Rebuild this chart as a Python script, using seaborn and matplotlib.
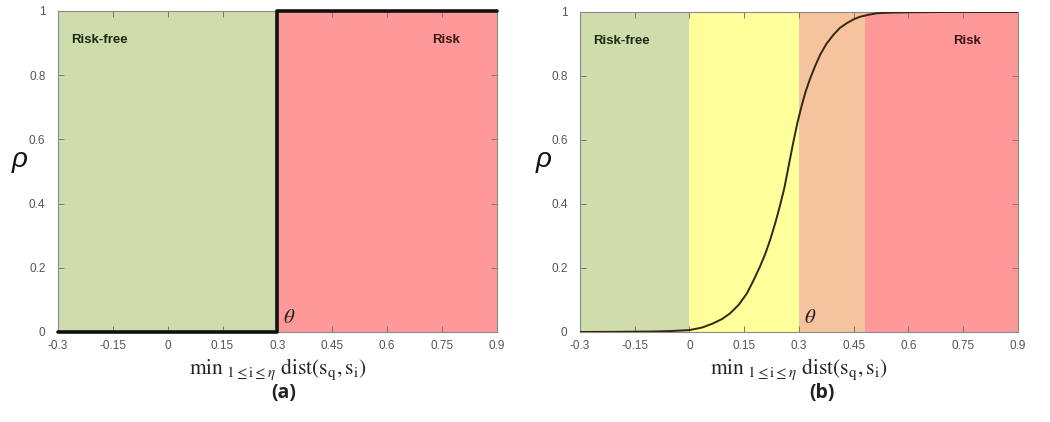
import matplotlib
matplotlib.use('Agg')
import matplotlib.pyplot as plt
import seaborn as sns
import pandas as pd

sns.set_style('ticks')
plt.rcParams['font.family'] = ['Liberation Sans', 'DejaVu Sans']
plt.rcParams['mathtext.fontset'] = 'stix'

# panel (a): hard threshold
edges_a = [-0.3, 0.3, 0.9]
colors_a = ['#cfdcac', '#ff9999']
step_x = [-0.3, 0.3, 0.3, 0.9]
step_y = [0, 0, 1, 1]

# panel (b): soft zones + sigmoid
edges_b = [-0.3, 0.0, 0.3, 0.48, 0.9]
colors_b = ['#cfdcac', '#ffff9c', '#f5c39d', '#ff9999']
curve_x = [-0.3, -0.2, -0.1, -0.05, 0.0, 0.035, 0.065, 0.09, 0.111, 0.135,
           0.157, 0.175, 0.193, 0.208, 0.221, 0.235, 0.248, 0.26, 0.272,
           0.284, 0.296, 0.307, 0.318, 0.33, 0.344, 0.358, 0.375, 0.394,
           0.412, 0.431, 0.45, 0.467, 0.49, 0.513, 0.55, 0.6, 0.7, 0.9]
curve_y = [0.0, 0.0005, 0.0015, 0.003, 0.006, 0.014, 0.027, 0.041, 0.058,
           0.085, 0.12, 0.16, 0.204, 0.245, 0.2875, 0.34, 0.395, 0.45, 0.52,
           0.59, 0.655, 0.705, 0.75, 0.79, 0.83, 0.866, 0.9, 0.928, 0.95,
           0.965, 0.977, 0.985, 0.991, 0.996, 0.998, 0.999, 1.0, 1.0]

xticks = [-0.3, -0.15, 0, 0.15, 0.3, 0.45, 0.6, 0.75, 0.9]
xtick_labels = ['-0.3', '-0.15', '0', '0.15', '0.3', '0.45', '0.6', '0.75', '0.9']
yticks = [0, 0.2, 0.4, 0.6, 0.8, 1]
ytick_labels = ['0', '0.2', '0.4', '0.6', '0.8', '1']

xlabel = r'$\mathrm{min}_{\ 1\leq\mathrm{i}\leq\eta}\ \mathrm{dist}\left(\mathrm{s_q,s_i}\right)$'

fig = plt.figure(figsize=(10.5, 4.22), dpi=100)
ax_a = fig.add_axes([0.0552, 0.2133, 0.418, 0.7607])
ax_b = fig.add_axes([0.5524, 0.2133, 0.417, 0.7583])


def style(ax, edges, colors):
    for i, c in enumerate(colors):
        ax.axvspan(edges[i], edges[i + 1], color=c, lw=0, zorder=0)
    ax.set_xlim(-0.3, 0.9)
    ax.set_ylim(0, 1)
    ax.set_xticks(xticks)
    ax.set_xticklabels(xtick_labels)
    ax.set_yticks(yticks)
    ax.set_yticklabels(ytick_labels)
    ax.tick_params(direction='in', length=4, width=0.7, colors='#777777',
                   labelcolor='#555555', labelsize=8.5, top=True, right=True)
    ax.tick_params(axis='x', pad=6)
    ax.tick_params(axis='y', pad=9)
    for s in ax.spines.values():
        s.set_color('#8a8a8a')
        s.set_linewidth(0.8)
    ax.text(-0.265, 0.91, 'Risk-free', fontsize=9.5, fontweight='bold',
            color='#1e2a12', va='center', ha='left')
    ax.text(0.76, 0.91, 'Risk', fontsize=9.5, fontweight='bold',
            color='#3a1414', va='center', ha='center')
    ax.text(0.315, 0.045, r'$\theta$', fontsize=15, color='#222222',
            va='center', ha='left')


style(ax_a, edges_a, colors_a)
sns.lineplot(x=step_x, y=step_y, ax=ax_a, color='#111111', lw=2.6,
             sort=False, estimator=None, clip_on=False, zorder=5)

style(ax_b, edges_b, colors_b)
sns.lineplot(data=pd.DataFrame({'x': curve_x, 'y': curve_y}), x='x', y='y',
             ax=ax_b, color='#33280f', lw=1.4, zorder=5)

for ax in (ax_a, ax_b):
    ax.set_xlabel(xlabel, fontsize=15.5, labelpad=3, color='#222222')
    ax.set_ylabel('')

fig.text(0.011, 0.62, 'ρ', fontsize=20, style='italic', color='#111111',
         va='center')
fig.text(0.51, 0.62, 'ρ', fontsize=20, style='italic', color='#111111',
         va='center')
fig.text(0.27, 0.068, '(a)', fontsize=14, fontweight='bold', ha='center',
         va='center', family=['Open Sans', 'DejaVu Sans'], color='#222222')
fig.text(0.783, 0.068, '(b)', fontsize=14, fontweight='bold', ha='center',
         va='center', family=['Open Sans', 'DejaVu Sans'], color='#222222')

fig.savefig('out.png', dpi=100)
